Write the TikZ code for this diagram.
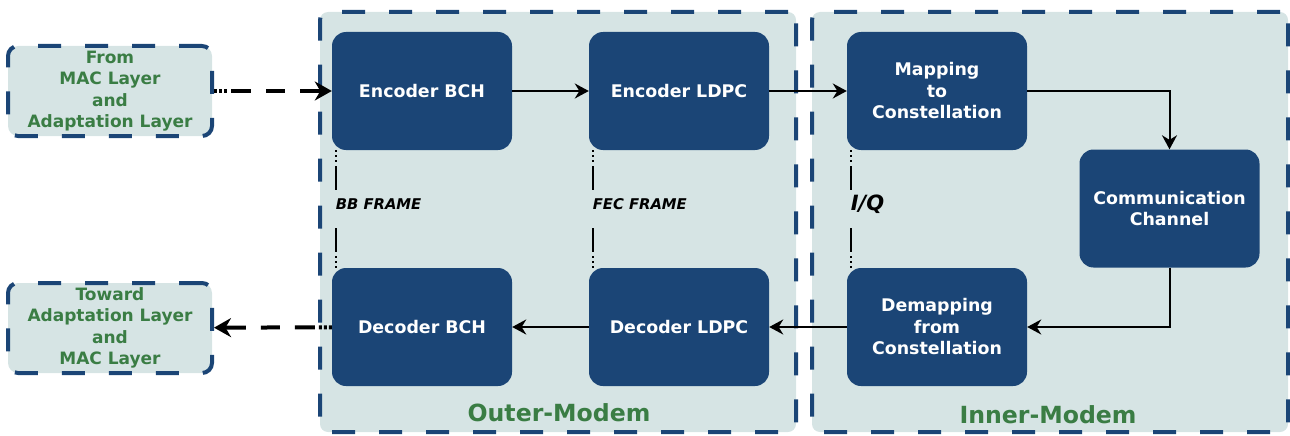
\documentclass[tikz,border=0pt]{standalone}
\usepackage{fontspec}
\setmainfont{DejaVu Sans}
\usetikzlibrary{arrows.meta}
\tikzset {>=Stealth}

\definecolor{modemblue}{RGB}{27,69,118}
\definecolor{modemfill}{RGB}{214,228,228}
\definecolor{layergreen}{RGB}{58,125,68}

\tikzset{
  modem/.style={fill=modemfill, draw=modemblue, line width=4pt,
    dash pattern=on 23pt off 24pt, rounded corners=8pt,
    minimum width=476pt, minimum height=420pt},
  layer/.style={fill=modemfill, draw=modemblue, line width=4pt,
    dash pattern=on 23pt off 24pt, rounded corners=10pt,
    minimum width=204pt, minimum height=90pt, align=center, inner sep=0pt,
    text=layergreen, font=\bfseries\fontsize{17}{21.5}\selectfont},
  block/.style={fill=modemblue, rounded corners=14pt, text=white,
    minimum width=180pt, minimum height=118pt, align=center,
    font=\bfseries\fontsize{17.4}{21.5}\selectfont},
  flow/.style={->, line width=2pt, >={Stealth[length=14pt,width=15pt]}},
  iolink/.style={->, line width=4pt, >={Stealth[length=17pt,width=19pt]},
    dash pattern=on 3pt off 2pt on 3pt off 2pt on 3pt off 4pt on 20pt off 15pt on 19pt off 15pt on 40pt},
  framelink/.style={line width=2pt,
    dash pattern=on 2pt off 3pt on 2pt off 3pt on 2pt off 4pt on 24pt off 38pt on 24pt off 4pt on 2pt off 3pt on 2pt off 3pt on 2pt},
  framelbl/.style={fill=modemfill, anchor=west, inner xsep=1pt, inner ysep=5pt,
    font=\bfseries\itshape\fontsize{14.8}{17}\selectfont},
  modemlbl/.style={text=layergreen, font=\bfseries\fontsize{23.6}{28}\selectfont}
}

\begin{document}
\begin{tikzpicture}[x=1pt,y=-1pt]
\useasboundingbox (0,0) rectangle (1290,436);

% modems
\node[modem] (outer) at (558,222) {};
\node[modem] (inner) at (1050,222) {};
\node[modemlbl] (outerlbl) at (559,413) {Outer-Modem};
\node[modemlbl] (innerlbl) at (1048,415) {Inner-Modem};

% upper layers
\node[layer] (from) at (110,91) {From\\MAC Layer\\and\\Adaptation Layer};
\node[layer] (toward) at (110,328) {Toward\\Adaptation Layer\\and\\MAC Layer};

% blocks
\node[block] (encbch) at (422,91) {Encoder BCH};
\node[block] (encldpc) at (679,91) {Encoder LDPC};
\node[block] (map) at (937,91) {Mapping\\to\\Constellation};
\node[block] (chan) at (1169.5,208.5) {Communication\\Channel};
\node[block] (demap) at (937,327) {Demapping\\from\\Constellation};
\node[block] (decldpc) at (679,327) {Decoder LDPC};
\node[block] (decbch) at (422,327) {Decoder BCH};

% chain
\draw[iolink] (from) -- (encbch);
\draw[flow] (encbch) -- (encldpc);
\draw[flow] (encldpc) -- (map);
\draw[flow] (map.east) -| (chan.north);
\draw[flow] (chan.south) |- (demap.east);
\draw[flow] (demap) -- (decldpc);
\draw[flow] (decldpc) -- (decbch);
\draw[iolink] (decbch) -- (toward);

\foreach \up/\down/\txt in {encbch/decbch/BB FRAME,encldpc/decldpc/FEC FRAME,map/demap/{\fontsize{21}{24}\selectfont I/Q}}
  \draw[framelink] ([xshift=4pt]\up.south west) -- ([xshift=4pt]\down.north west)
    node[framelbl,pos=.46,xshift=-2pt] {\txt};
\end{tikzpicture}
\end{document}
